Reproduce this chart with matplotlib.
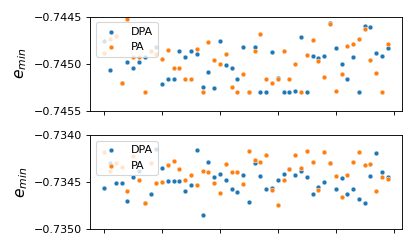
import numpy as np
import matplotlib
matplotlib.use("Agg")
import matplotlib.pyplot as plt

# top panel (e_min around -0.745)
dpa_top = [-0.744762, -0.745072, -0.744701, -0.745207, -0.744982, -0.745051, -0.744982, -0.744932, -0.744865, -0.744819,
           -0.745221, -0.745168, -0.745168, -0.744862, -0.744932, -0.744867, -0.744902, -0.745245, -0.745088, -0.745259,
           -0.744755, -0.745017, -0.745049, -0.745165, -0.744819, -0.745304, -0.744819, -0.745304, -0.745304, -0.744872,
           -0.745157, -0.745304, -0.745304, -0.745288, -0.744716, -0.745304, -0.744916, -0.744936, -0.744920, -0.744562,
           -0.744830, -0.745003, -0.745168, -0.744929, -0.745304, -0.744601, -0.744612, -0.744881, -0.744921, -0.744830]
pa_top = [-0.744891, -0.744735, -0.744701, -0.745207, -0.744528, -0.744926, -0.744926, -0.745304, -0.744865, -0.744894,
          -0.744953, -0.744857, -0.745049, -0.745049, -0.745161, -0.745161, -0.744840, -0.745304, -0.744767, -0.744963,
          -0.745005, -0.744899, -0.745248, -0.745304, -0.745112, -0.745304, -0.744867, -0.744686, -0.745160, -0.745207,
          -0.745166, -0.744870, -0.745160, -0.744998, -0.745304, -0.744910, -0.744748, -0.744968, -0.745138, -0.744583,
          -0.745287, -0.745107, -0.744815, -0.744794, -0.744734, -0.744629, -0.744961, -0.745102, -0.745304, -0.744794]

# bottom panel (e_min around -0.7345)
dpa_bot = [-0.734569, -0.734303, -0.734513, -0.734513, -0.734702, -0.734445, -0.734381, -0.734720, -0.734624, -0.734149,
           -0.734351, -0.734489, -0.734489, -0.734489, -0.734593, -0.734532, -0.734160, -0.734849, -0.734290, -0.734444,
           -0.734415, -0.734482, -0.734571, -0.734610, -0.734429, -0.734715, -0.734295, -0.734441, -0.734572, -0.734567,
           -0.734479, -0.734418, -0.734365, -0.734429, -0.734383, -0.734450, -0.734628, -0.734553, -0.734500, -0.734301,
           -0.734571, -0.734461, -0.734626, -0.734571, -0.734684, -0.734727, -0.734436, -0.734191, -0.734394, -0.734444]
pa_bot = [-0.734176, -0.734380, -0.734295, -0.734344, -0.734594, -0.734223, -0.734481, -0.734720, -0.734301, -0.734514,
          -0.734505, -0.734321, -0.734277, -0.734365, -0.734484, -0.734426, -0.734535, -0.734378, -0.734396, -0.734516,
          -0.734619, -0.734309, -0.734390, -0.734390, -0.734524, -0.734173, -0.734263, -0.734287, -0.734213, -0.734588,
          -0.734741, -0.734476, -0.734365, -0.734215, -0.734354, -0.734167, -0.734290, -0.734582, -0.734177, -0.734301,
          -0.734436, -0.734656, -0.734423, -0.734284, -0.734178, -0.734322, -0.734312, -0.734594, -0.734444, -0.734471]

top_ticks = [-0.7455, -0.7450, -0.7445]
bot_ticks = [-0.7350, -0.7345, -0.7340]

x = np.arange(len(dpa_top))

# drawn at 80 dpi so default font sizes match the reference
fig = plt.figure(figsize=(415 / 80, 249 / 80), dpi=80)
ax1 = fig.add_axes([0.2169, 0.5554, 0.7518, 0.3776])
ax2 = fig.add_axes([0.2169, 0.0803, 0.7518, 0.3776])

for ax, d, p, ticks in [(ax1, dpa_top, pa_top, top_ticks), (ax2, dpa_bot, pa_bot, bot_ticks)]:
    ax.scatter(x, d, s=19, color="#1f77b4", edgecolor="white", linewidth=0.4, label="DPA")
    ax.scatter(x, p, s=19, color="#ff7f0e", edgecolor="white", linewidth=0.4, label="PA")
    ax.set_ylim(ticks[0], ticks[-1])
    ax.set_yticks(ticks)
    ax.set_yticklabels(["\u2212%.4f" % abs(t) for t in ticks])
    ax.set_xticks(range(0, 51, 10))
    ax.set_xticklabels([])
    ax.set_ylabel("$e_{min}$", fontsize=14)
    ax.legend(loc="upper left")

fig.savefig("out.png", dpi=80)
